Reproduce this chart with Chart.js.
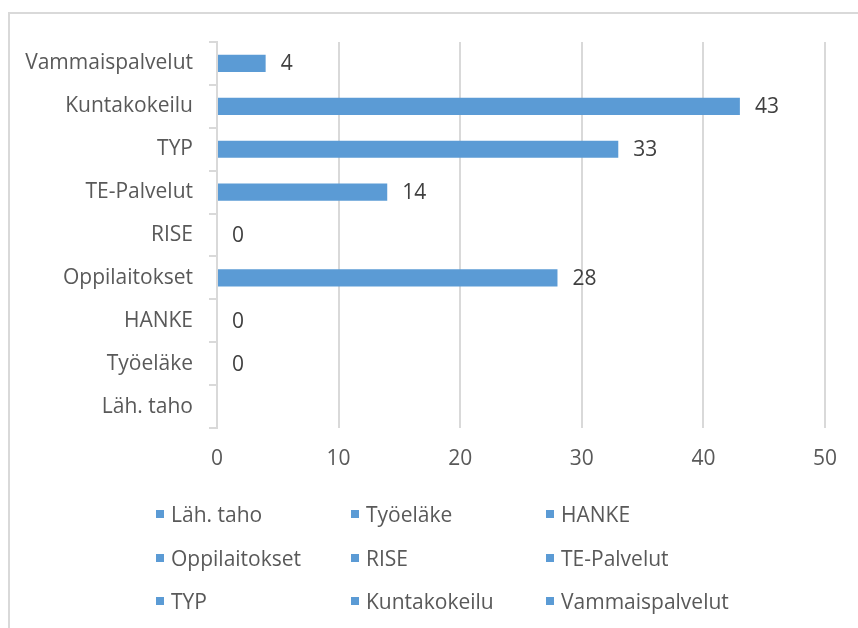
<!DOCTYPE html>
<html>
<head>
<meta charset="utf-8">
<script src="https://cdn.jsdelivr.net/npm/chart.js@4.4.0/dist/chart.umd.min.js"></script>
<style>
    body { margin: 0; width: 858px; height: 628px; overflow: hidden; background: #fff; position: relative; font-family: "Open Sans", sans-serif; }
    #frame { position: absolute; left: 8px; top: 12px; width: 900px; height: 700px; border-top: 2px solid #d9d9d9; border-left: 2px solid #d9d9d9; }
    #wrap { position: absolute; left: 0; top: 0; width: 858px; height: 480px; }
    #legend { position: absolute; left: 0; top: 0; width: 858px; height: 628px; pointer-events: none; }
    .item { position: absolute; font-size: 21px; color: #595959; white-space: nowrap; line-height: 28px; }
    .box { display: inline-block; width: 8px; height: 8px; margin-right: 7px; vertical-align: middle; position: relative; top: -2px; }
</style>
</head>
<body>
<div id="frame"></div>
<div id="wrap"><canvas id="barChart" width="858" height="480"></canvas></div>
<div id="legend"></div>
<script>
// Chart data, bottom category first (Excel order)
var categories = ['Läh. taho', 'Työeläke', 'HANKE', 'Oppilaitokset', 'RISE', 'TE-Palvelut', 'TYP', 'Kuntakokeilu', 'Vammaispalvelut'];
var values = [null, 0, 0, 28, 0, 14, 33, 43, 4];
var xTicks = [0, 10, 20, 30, 40, 50];
var barColor = '#5B9BD5';

var fontFamily = '"Open Sans", sans-serif';
var textColor = '#595959';
var gridColor = '#d9d9d9';

// One series per category, like the original sheet
var datasets = categories.map(function(name, i) {
    return {
        label: name,
        data: categories.map(function(c, j) { return j === i ? values[i] : null; }),
        backgroundColor: barColor,
        grouped: false,
        barPercentage: 0.4,
        categoryPercentage: 1
    };
});

// Draws the value next to each bar
var valueLabels = {
    id: 'valueLabels',
    afterDatasetsDraw: function(chart) {
        var ctx = chart.ctx;
        ctx.save();
        ctx.font = '21px ' + fontFamily;
        ctx.fillStyle = '#404040';
        ctx.textBaseline = 'middle';
        ctx.textAlign = 'left';
        chart.data.datasets.forEach(function(ds, i) {
            var meta = chart.getDatasetMeta(i);
            meta.data.forEach(function(bar, j) {
                var v = ds.data[j];
                if (v === null || v === undefined) return;
                ctx.fillText(String(v), bar.x + 15, bar.y + 1);
            });
        });
        ctx.restore();
    }
};

var ctx = document.getElementById('barChart').getContext('2d');
var chart = new Chart(ctx, {
    type: 'bar',
    data: { labels: categories, datasets: datasets },
    plugins: [valueLabels],
    options: {
        indexAxis: 'y',
        responsive: false,
        animation: false,
        layout: { padding: { top: 42, right: 33, bottom: 2, left: 0 } },
        plugins: {
            legend: { display: false },
            tooltip: { enabled: false }
        },
        scales: {
            y: {
                type: 'category',
                reverse: true,
                grid: { display: true, drawOnChartArea: false, offset: true, tickLength: 8, color: gridColor, lineWidth: 2 },
                border: { display: true, color: gridColor, width: 2 },
                ticks: { color: textColor, font: { size: 21, family: fontFamily }, padding: 16 },
                afterFit: function(scale) { scale.width = 217; }
            },
            x: {
                min: 0,
                max: 50,
                grid: { color: gridColor, lineWidth: 2, drawTicks: false },
                border: { display: false },
                ticks: { color: textColor, font: { size: 21, family: fontFamily }, padding: 18 },
                afterBuildTicks: function(scale) {
                    scale.ticks = xTicks.map(function(v) { return { value: v }; });
                },
                afterFit: function(scale) { scale.height = 50; }
            }
        }
    }
});

// Legend as a 3-column grid, built from the chart's datasets
var legend = document.getElementById('legend');
chart.data.datasets.forEach(function(ds, i) {
    var col = i % 3;
    var row = Math.floor(i / 3);
    var item = document.createElement('div');
    item.className = 'item';
    item.style.left = (156 + col * 195) + 'px';
    item.style.top = (500 + row * 43.5) + 'px';
    var box = document.createElement('span');
    box.className = 'box';
    box.style.background = ds.backgroundColor;
    item.appendChild(box);
    item.appendChild(document.createTextNode(ds.label));
    legend.appendChild(item);
});
</script>
</body>
</html>
